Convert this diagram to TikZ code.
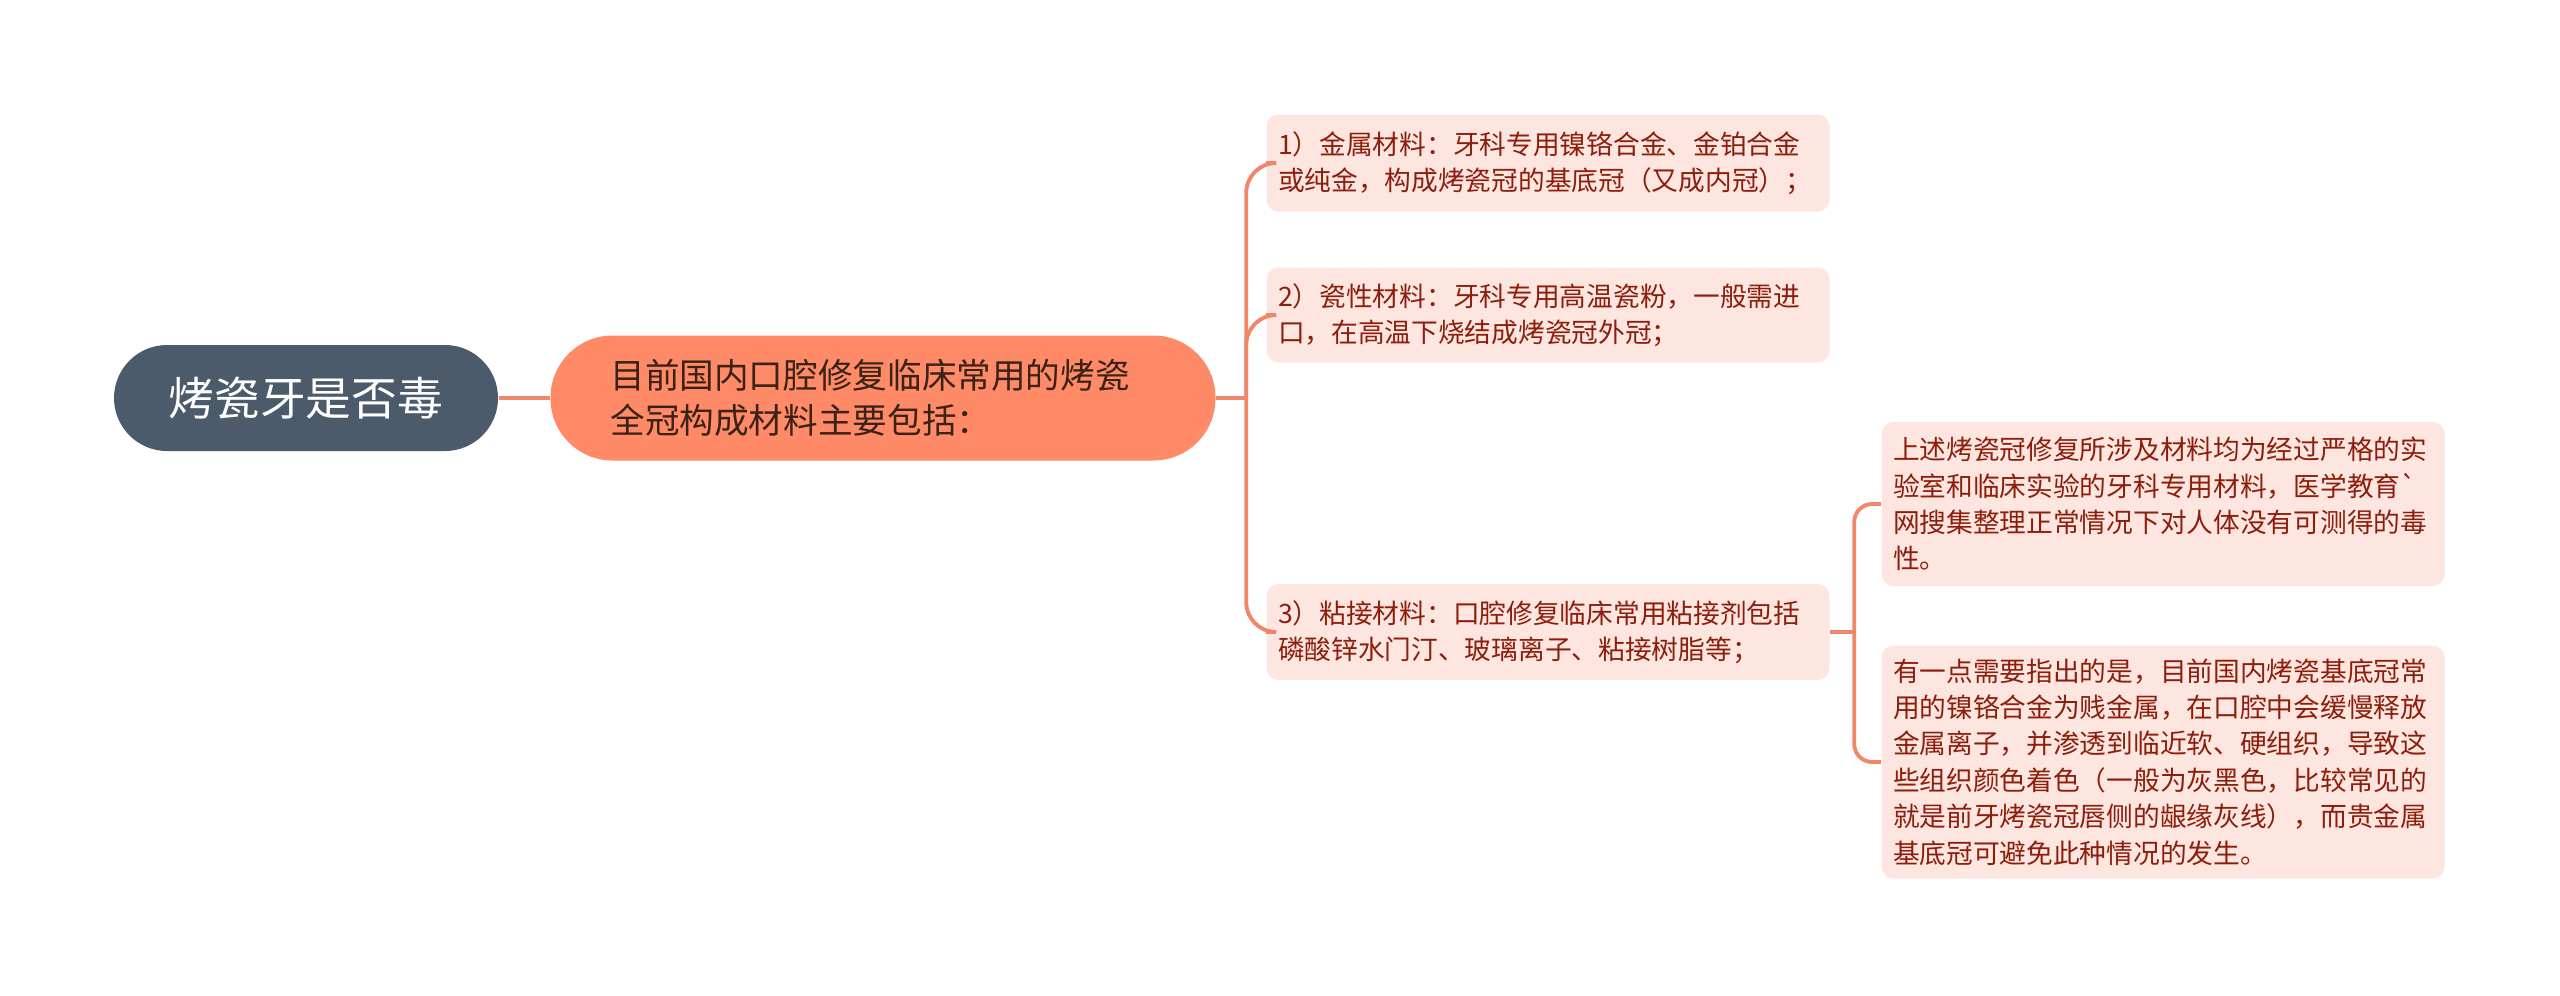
\documentclass[tikz,border=0pt]{standalone}
\usepackage{fontspec}
\usepackage{xcolor}
\usetikzlibrary{positioning}
\newfontfamily\cjk{Noto Sans CJK SC}
\definecolor{rootfill}{HTML}{4B5B6B}
\definecolor{topicfill}{HTML}{FF8A68}
\definecolor{leaffill}{HTML}{FDE5E0}
\definecolor{leaftext}{HTML}{8E1E0C}
\definecolor{topictext}{HTML}{3A2216}
\definecolor{linkcol}{HTML}{F0866A}

\begin{document}
\begin{tikzpicture}[
    rootbox/.style={fill=rootfill, text=white, rounded corners=0.53cm, minimum width=3.84cm, minimum height=1.06cm, inner sep=0pt, font=\cjk\fontsize{13pt}{15pt}\selectfont},
    topicbox/.style={fill=topicfill, text=topictext, rounded corners=0.62cm, minimum width=6.65cm, minimum height=1.25cm, text width=5.45cm, align=left, inner sep=0pt, font=\cjk\fontsize{9.85pt}{12.6pt}\selectfont},
    leafbox/.style={fill=leaffill, text=leaftext, rounded corners=0.12cm, minimum width=5.63cm, text width=5.40cm, align=left, inner xsep=0.115cm, inner ysep=0pt, font=\cjk\fontsize{7.6pt}{10.35pt}\selectfont},
    link/.style={draw=linkcol, line width=1.1pt}
  ]
    \useasboundingbox (0,0) rectangle (25.6,-9.95);

    % ROOT AND TOPIC
    \node[rootbox] (root) at (3.06,-3.98) {烤瓷牙是否毒};
    \node[topicbox] (topic) at (8.83,-3.98) {目前国内口腔修复临床常用的烤瓷\\全冠构成材料主要包括：};

    % MATERIALS
    \node[leafbox, minimum height=0.97cm] (metal) at (15.48,-1.63) {1）金属材料：牙科专用镍铬合金、金铂合金\\或纯金，构成烤瓷冠的基底冠（又成内冠）；};
    \node[leafbox, minimum height=0.95cm] (porcelain) at (15.48,-3.15) {2）瓷性材料：牙科专用高温瓷粉，一般需进\\口，在高温下烧结成烤瓷冠外冠；};
    \node[leafbox, minimum height=0.96cm] (cement) at (15.48,-6.32) {3）粘接材料：口腔修复临床常用粘接剂包括\\磷酸锌水门汀、玻璃离子、粘接树脂等；};

    % NOTES
    \node[leafbox, minimum height=1.64cm] (safe) at (21.63,-5.04) {上述烤瓷冠修复所涉及材料均为经过严格的实\\验室和临床实验的牙科专用材料，医学教育\textasciigrave\\网搜集整理正常情况下对人体没有可测得的毒\\性。};
    \node[leafbox, minimum height=2.33cm] (warn) at (21.63,-7.62) {有一点需要指出的是，目前国内烤瓷基底冠常\\用的镍铬合金为贱金属，在口腔中会缓慢释放\\金属离子，并渗透到临近软、硬组织，导致这\\些组织颜色着色（一般为灰黑色，比较常见的\\就是前牙烤瓷冠唇侧的龈缘灰线），而贵金属\\基底冠可避免此种情况的发生。};

    % LINKS
    \draw[link] (root) -- (topic);
    \draw[link] (topic.east) -- ++(0.30,0) coordinate (fork);
    \draw[link, rounded corners=0.3cm] (fork) |- (metal.west);
    \draw[link, rounded corners=0.3cm] (fork) |- (porcelain.west);
    \draw[link, rounded corners=0.3cm] (fork) |- (cement.west);
    \draw[link] (cement.east) -- ++(0.24,0) coordinate (fork2);
    \draw[link, rounded corners=0.18cm] (fork2) |- (safe.west);
    \draw[link, rounded corners=0.18cm] (fork2) |- (warn.west);
  \end{tikzpicture}
\end{document}
